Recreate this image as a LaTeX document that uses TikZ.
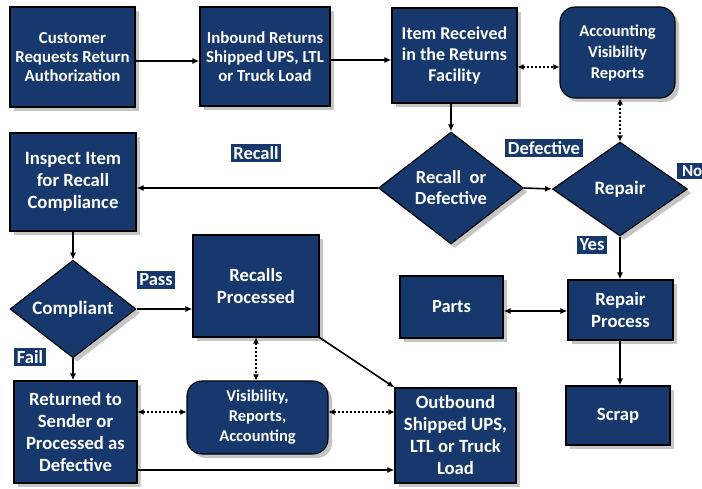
\documentclass[tikz,border=0pt]{standalone}
\usepackage{fontspec}
\setmainfont{Carlito}
\usetikzlibrary{shapes.geometric,shadows,arrows.meta}
\definecolor{navy}{HTML}{17386C}
\newcommand{\fsz}[2]{\fontsize{#1}{#2}\selectfont}
\begin{document}
\begin{tikzpicture}[x=1pt,y=-1pt,
  base/.style={draw=black,line width=1.1pt,fill=navy,text=white,align=center,
    inner sep=2pt,font=\bfseries,
    drop shadow={shadow xshift=4pt,shadow yshift=-4pt,fill=black!45}},
  box/.style={base,rectangle},
  rbox/.style={base,rectangle,rounded corners=15pt},
  dia/.style={base,diamond,inner sep=0pt},
  lab/.style={fill=navy,text=white,inner sep=2.5pt,font=\bfseries\fsz{18.5}{21}},
  flow/.style={-{Latex[length=7pt,width=6pt]},line width=1.6pt},
  both/.style={{Latex[length=7pt,width=6pt]}-{Latex[length=7pt,width=6pt]},line width=1.6pt},
  dots/.style={{Latex[length=6pt,width=6pt]}-{Latex[length=6pt,width=6pt]},line width=2pt,dotted}]
\useasboundingbox (0,0) rectangle (702,489);

% inbound side
\node[box,minimum width=125pt,minimum height=100pt,font=\bfseries\fsz{16.8}{19}] (cust) at (72.5,57)
  {Customer\\Requests Return\\Authorization};
\node[box,minimum width=130pt,minimum height=99pt,font=\bfseries\fsz{16.8}{19}] (inb) at (265,56.5)
  {Inbound Returns\\Shipped UPS, LTL\\or Truck Load};
\node[box,minimum width=125pt,minimum height=95pt,font=\bfseries\fsz{18}{21}] (recv) at (454.5,55.5)
  {Item Received\\in the Returns\\Facility};
\node[rbox,minimum width=115pt,minimum height=91pt,font=\bfseries\fsz{16.5}{21}] (acct) at (617.5,52.5)
  {Accounting\\Visibility\\Reports};

% decisions
\node[dia,minimum width=145pt,minimum height=112pt,font=\bfseries\fsz{18.5}{21}] (rd) at (451,188)
  {Recall~ or\\Defective};
\node[dia,minimum width=135pt,minimum height=94pt,font=\bfseries\fsz{19}{21}] (rep) at (620,189)
  {Repair};
\node[dia,minimum width=126pt,minimum height=94pt,font=\bfseries\fsz{19}{21}] (comp) at (73,309)
  {Compliant};

% recall branch
\node[box,minimum width=126pt,minimum height=98pt,font=\bfseries\fsz{18.7}{22}] (insp) at (73,182)
  {Inspect Item\\for Recall\\Compliance};
\node[box,minimum width=126pt,minimum height=102pt,font=\bfseries\fsz{18.7}{22}] (rproc) at (256,286)
  {Recalls\\Processed};
\node[box,minimum width=123pt,minimum height=102pt,font=\bfseries\fsz{18.7}{22}] (ret) at (75.5,432)
  {Returned to\\Sender or\\Processed as\\Defective};
\node[rbox,minimum width=141pt,minimum height=73pt,font=\bfseries\fsz{16.5}{20}] (vis) at (257.5,417.5)
  {Visibility,\\Reports,\\Accounting};
\node[box,minimum width=121pt,minimum height=95pt,font=\bfseries\fsz{18.7}{22}] (outb) at (455.5,435.5)
  {Outbound\\Shipped UPS,\\LTL or Truck\\Load};

% repair branch
\node[box,minimum width=103pt,minimum height=62pt,font=\bfseries\fsz{18.5}{22}] (parts) at (451.5,307)
  {Parts};
\node[box,minimum width=105pt,minimum height=60pt,font=\bfseries\fsz{18.7}{22}] (rpp) at (620.5,310)
  {Repair\\Process};
\node[box,minimum width=104pt,minimum height=59pt,font=\bfseries\fsz{18.7}{22}] (scrap) at (618,415.5)
  {Scrap};

% branch labels
\node[lab] (lrecall) at (256,153) {Recall};
\node[lab] (ldef) at (544,148) {Defective};
\node[lab,anchor=west,inner ysep=2pt,inner xsep=1.5pt,minimum width=30pt,align=left,
  font=\bfseries\fsz{17}{20}] (lno) at (677,171) {No};
\node[lab] (lyes) at (592,245) {Yes};
\node[lab] (lpass) at (156,280) {Pass};
\node[lab] (lfail) at (30,357) {Fail};

% connectors
\draw[flow] ([yshift=-4pt]cust.east) -- ([yshift=-4.5pt]inb.west);
\draw[flow] ([yshift=-3.5pt]inb.east) -- ([yshift=-4.5pt]recv.west);
\draw[dots] ([yshift=-11.5pt]recv.east) -- ([yshift=-14.5pt]acct.west);
\draw[flow] (rd.north |- recv.south) -- (rd.north);
\draw[flow] (rd.west) -- (rd.west -| insp.east);
\draw[flow] (rd.east) -- (rep.west);
\draw[dots] (acct.south -| rep.north) -- (rep.north);
\draw[flow] (rep.south) -- (rep.south |- rpp.north);
\draw[both] ([yshift=-4pt]parts.east) -- ([yshift=-1pt]rpp.west);
\draw[flow] (rep.south |- rpp.south) -- (rep.south |- scrap.north);
\draw[flow] (insp.south) -- (comp.north);
\draw[flow] (comp.east) -- (comp.east -| rproc.west);
\draw[flow] (comp.south) -- (comp.south |- ret.north);
\draw[dots] (rproc.south) -- (rproc.south |- vis.north);
\draw[dots] ([yshift=20pt]ret.east) -- ([yshift=5.5pt]vis.west);
\draw[dots] ([yshift=5.5pt]vis.east) -- ([yshift=23.5pt]outb.west);
\draw[flow] (rproc.south east) -- (outb.north west);
\draw[flow] ([yshift=-38pt]ret.east) -- ([yshift=-34.5pt]outb.west);
\end{tikzpicture}
\end{document}
